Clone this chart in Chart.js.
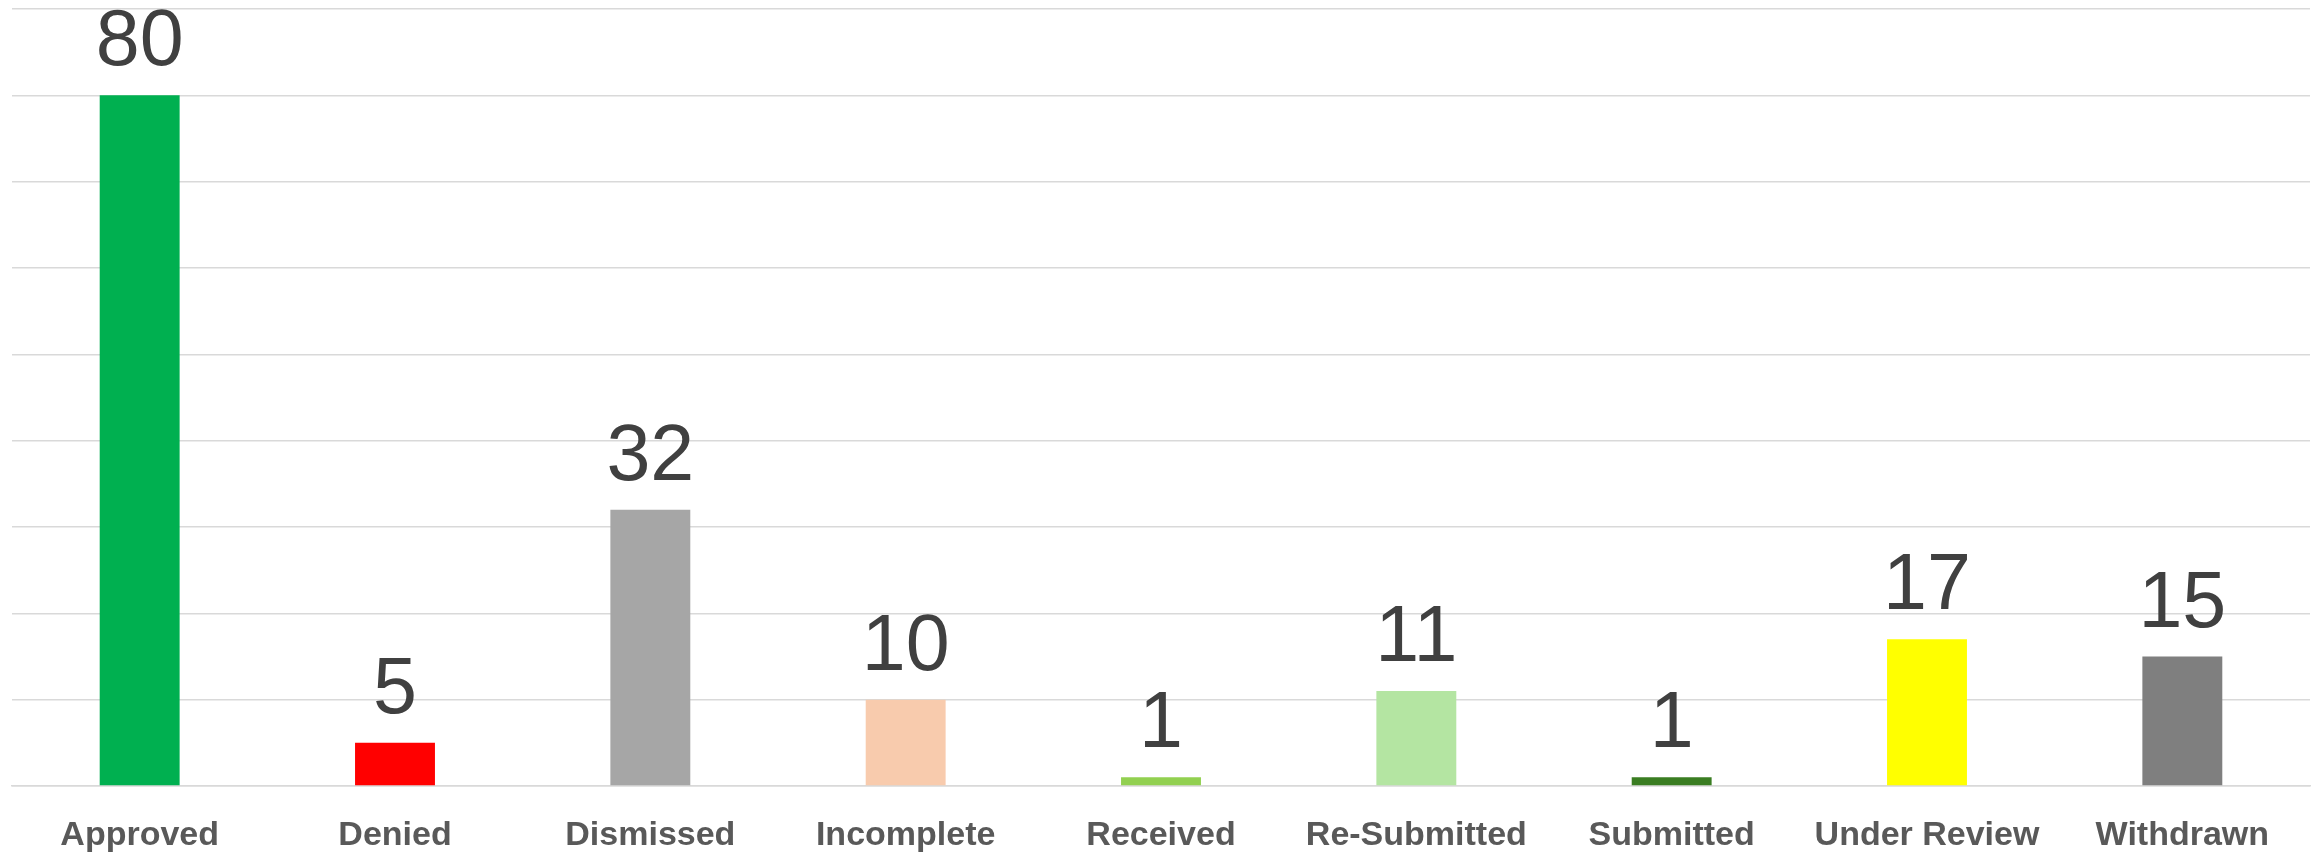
<!DOCTYPE html>
<html>
<head>
<meta charset="utf-8">
<script src="https://cdn.jsdelivr.net/npm/chart.js@4.4.1/dist/chart.umd.min.js"></script>
<style>
  html, body { margin:0; padding:0; background:#fff; }
  #wrap { width:2318px; height:857px; }
</style>
</head>
<body>
<div id="wrap"><canvas id="statusChart" width="2318" height="857"></canvas></div>
<script>
const categories = ['Approved','Denied','Dismissed','Incomplete','Received','Re-Submitted','Submitted','Under Review','Withdrawn'];
const counts = [80, 5, 32, 10, 1, 11, 1, 17, 15];
const barColors = ['#00B050','#FF0000','#A6A6A6','#F8CBAD','#92D050','#B4E5A2','#3A7D22','#FFFF00','#7F7F7F'];
const yTicks = [0, 10, 20, 30, 40, 50, 60, 70, 80, 90];

// draws the value above each bar (no datalabels plugin available)
const valueLabels = {
  id: 'valueLabels',
  afterDatasetsDraw(chart){
    const ctx = chart.ctx;
    const meta = chart.getDatasetMeta(0);
    ctx.save();
    ctx.font = '79px "Liberation Sans", Arial, sans-serif';
    ctx.fillStyle = '#404040';
    ctx.textAlign = 'center';
    ctx.textBaseline = 'alphabetic';
    meta.data.forEach((bar, i) => {
      ctx.fillText(String(chart.data.datasets[0].data[i]), bar.x, bar.y - 30);
    });
    ctx.restore();
  }
};

const ctx = document.getElementById('statusChart').getContext('2d');
new Chart(ctx, {
  type: 'bar',
  data: {
    labels: categories,
    datasets: [{ data: counts, backgroundColor: barColors, borderWidth: 0, barPercentage: 0.313, categoryPercentage: 1 }]
  },
  options: {
    responsive: false,
    animation: false,
    layout: { padding: { left: 12, right: 8, top: 9, bottom: 0 } },
    plugins: { legend: { display: false }, tooltip: { enabled: false } },
    scales: {
      x: {
        afterFit: axis => { axis.height = 71; },
        grid: { display: false, drawTicks: false },
        border: { display: true, color: '#D9D9D9', width: 1.5 },
        ticks: {
          color: '#595959', padding: 29, maxRotation: 0, minRotation: 0, autoSkip: false,
          font: { family: '"Liberation Sans", Arial, sans-serif', size: 34, weight: 'bold' }
        }
      },
      y: {
        min: yTicks[0],
        max: yTicks[yTicks.length - 1],
        afterBuildTicks: axis => { axis.ticks = yTicks.map(v => ({ value: v })); },
        grid: { color: '#D9D9D9', lineWidth: 1.5, drawTicks: false },
        border: { display: false },
        ticks: { display: false }
      }
    }
  },
  plugins: [valueLabels]
});
</script>
</body>
</html>
